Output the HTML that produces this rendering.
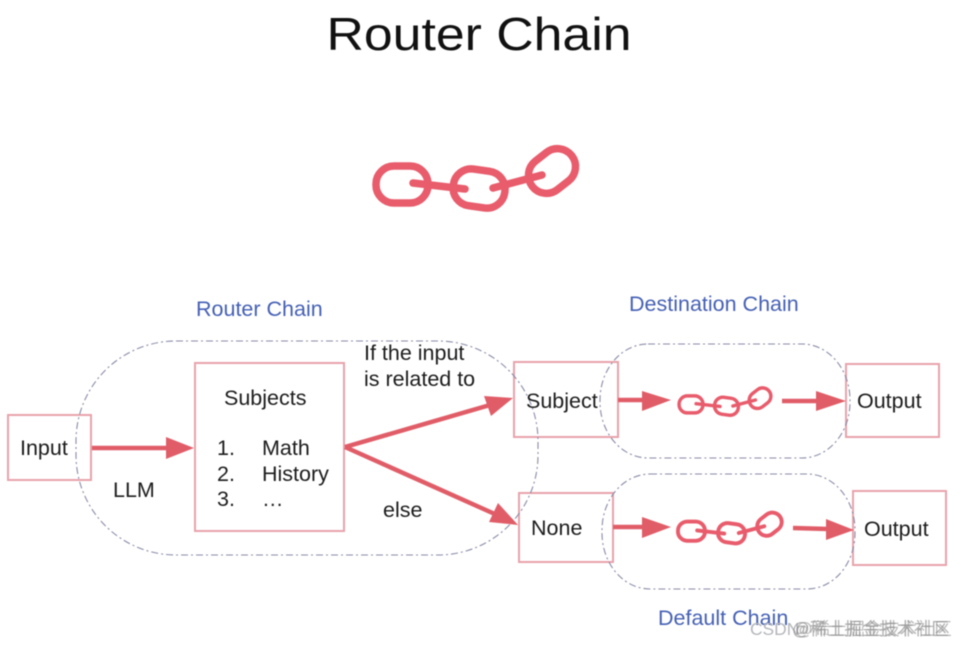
<!DOCTYPE html>
<html><head><meta charset="utf-8">
<style>
html,body{margin:0;padding:0;background:#fff;width:957px;height:645px;overflow:hidden}
svg{display:block}
text{font-family:"Liberation Sans",sans-serif;fill:#1c1c1c}
.b{fill:#fff;stroke:#e8a3ab;stroke-width:2}
.p{fill:none;stroke:#8a8ca6;stroke-width:1.1;stroke-dasharray:7 3 2 3}
.l{font-size:21.5px}
.h{font-size:21.5px;fill:#4560b4}
.a{stroke:#e05d68;stroke-width:4.5;fill:none}
.t{fill:#e05d68}
.w{font-size:17.4px;font-family:"Liberation Sans","Noto Sans CJK SC",sans-serif}
</style></head><body>
<svg width="957" height="645" viewBox="0 0 957 645" xmlns="http://www.w3.org/2000/svg">
<defs>
<g id="ch" fill="none" stroke="#e85c6c" stroke-width="7.5">
<rect x="-102" y="-22" width="52" height="37" rx="18"/>
<path d="M-65 -5 L-13 1" stroke-linecap="round"/>
<rect x="-25" y="-18" width="52" height="37" rx="18" transform="rotate(8 1 1)"/>
<path d="M15 0 L64 -13" stroke-linecap="round"/>
<rect x="49" y="-35" width="50" height="36" rx="18" transform="rotate(-38 74 -17)"/>
</g>
</defs>
<g style="filter:blur(.55px)">
<text x="479" y="50" text-anchor="middle" textLength="305" lengthAdjust="spacingAndGlyphs" style="font-size:46px;fill:#111">Router Chain</text>
<use href="#ch" transform="translate(478,188)"/>

<rect class="b" x="8" y="415" width="83" height="65"/>
<rect class="b" x="195" y="363" width="149" height="168"/>
<rect class="b" x="514" y="362" width="104" height="75"/>
<rect class="b" x="519" y="493" width="94" height="69"/>
<rect class="b" x="846" y="364" width="93" height="73"/>
<rect class="b" x="853" y="491" width="93" height="74"/>

<rect class="p" x="76" y="341" width="462" height="214" rx="100" ry="100"/>
<rect class="p" x="600" y="344" width="250" height="114" rx="48" ry="56"/>
<rect class="p" x="602" y="474" width="253" height="115" rx="48" ry="56"/>

<path class="a" d="M92 448H170"/><path class="t" d="M194 448L166 437V459Z"/>
<path class="a" d="M345 447L490 405"/><path class="t" d="M513 398L484 396L491 416Z"/>
<path class="a" d="M345 447L497 515"/><path class="t" d="M518 525L498 503L489 522Z"/>
<path class="a" d="M618 400H645"/><path class="t" d="M671 400L642 391V411Z"/>
<path class="a" d="M782 401H820"/><path class="t" d="M846 401L816 391V411Z"/>
<path class="a" d="M613 527H645"/><path class="t" d="M671 527L642 517V538Z"/>
<path class="a" d="M793 528L828 529"/><path class="t" d="M854 530L826 519V540Z"/>

<use href="#ch" transform="translate(726,406) scale(.46)"/>
<use href="#ch" transform="translate(731,533) scale(.52)"/>

<text class="h" x="196" y="316">Router Chain</text>
<text class="h" x="629" y="311">Destination Chain</text>
<text class="h" x="658" y="625">Default Chain</text>

<text class="l" x="20" y="455">Input</text>
<text class="l" x="113" y="497">LLM</text>
<text class="l" x="224" y="405">Subjects</text>
<text class="l" x="217" y="455">1.</text><text class="l" x="262" y="455">Math</text>
<text class="l" x="217" y="481">2.</text><text class="l" x="262" y="481">History</text>
<text class="l" x="217" y="506">3.</text><text class="l" x="262" y="506">…</text>
<text class="l" x="364" y="360">If the input</text>
<text class="l" x="364" y="386">is related to</text>
<text class="l" x="383" y="517">else</text>
<text class="l" x="526" y="408">Subject</text>
<text class="l" x="531" y="535">None</text>
<text class="l" x="857" y="408">Output</text>
<text class="l" x="864" y="536">Output</text>
</g>
<g style="filter:blur(.4px)">
<text class="w" x="750" y="635" style="fill:#b4b6bb">CSDN</text>
<text class="w" x="792" y="635" style="fill:#8a8a8a;fill-opacity:.7">@稀土掘金技术社区</text>
<text class="w" x="795" y="635" style="fill:#8a8a8a;fill-opacity:.6">@稀土掘金技术社区</text>
</g>
</svg>
</body></html>
